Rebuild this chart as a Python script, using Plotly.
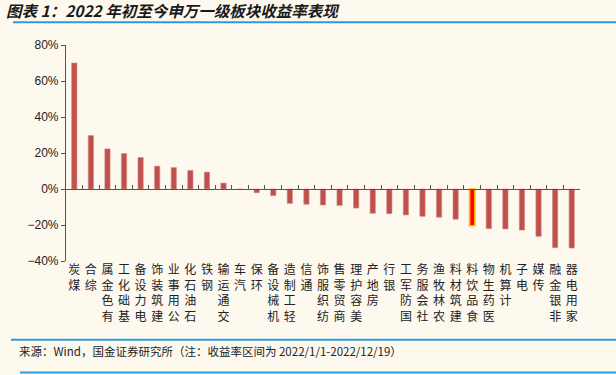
import plotly.graph_objects as go

categories = ["煤炭", "综合", "有色金属", "基础化工", "电力设备", "建筑装饰", "公用事业", "石油石化",
              "钢铁", "交通运输", "汽车", "环保", "机械设备", "轻工制造", "通信", "纺织服饰",
              "商贸零售", "美容护理", "房地产", "银行", "国防军工", "社会服务", "农林牧渔", "建筑材料",
              "食品饮料", "医药生物", "计算机", "电子", "传媒", "非银金融", "家用电器"]
returns = [70.0, 29.7, 22.3, 19.7, 17.5, 12.7, 11.9, 10.3, 9.4, 3.3, -0.2, -2.1, -3.7, -8.0, -8.5,
           -8.9, -9.1, -10.6, -13.5, -13.7, -14.4, -15.2, -15.7, -16.8, -20.4, -22.0, -22.2, -22.8,
           -26.3, -32.6, -32.8]
highlight = "食品饮料"
y_ticks = [-40, -20, 0, 20, 40, 60, 80]
y_tick_text = ["−40%", "−20%", "0%", "20%", "40%", "60%", "80%"]

BG = "#FEF9EF"
BAR = "#C0504D"
BLUE = "#2C9AD8"
CJK = "Noto Sans CJK SC"

# labels read bottom-to-top with upright characters
tick_text = ["<br>".join(reversed(list(c))) for c in categories]
colors = ["#FF0000" if c == highlight else BAR for c in categories]
line_colors = ["#FFC000" if c == highlight else "#D98A88" for c in categories]
line_widths = [1.6 if c == highlight else 0.6 for c in categories]

fig = go.Figure()
fig.add_trace(go.Bar(
    x=categories, y=returns, width=0.32,
    marker=dict(color=colors, line=dict(color=line_colors, width=line_widths)),
    hovertemplate="%{x}: %{y:.1f}%<extra></extra>",
))
fig.add_trace(go.Scatter(x=categories, y=[0] * len(categories), xaxis="x2", mode="markers",
                         marker=dict(opacity=0), hoverinfo="skip", showlegend=False))

n = len(categories)
fig.update_layout(
    width=616, height=375,
    paper_bgcolor=BG, plot_bgcolor=BG,
    margin=dict(l=66, r=36, t=45, b=114, autoexpand=False),
    showlegend=False,
    xaxis=dict(
        type="category", categoryorder="array", categoryarray=categories,
        range=[-0.5, n - 0.5], automargin=False,
        tickmode="array", tickvals=categories, ticktext=tick_text,
        showline=False, ticks="", showgrid=False, zeroline=False,
        tickfont=dict(family=CJK, size=12, color="#222222"),
        tickangle=0,
    ),
    xaxis2=dict(
        type="category", categoryorder="array", categoryarray=categories,
        range=[-0.5, n - 0.5], automargin=False,
        overlaying="x", anchor="free", position=40 / 120,
        showline=True, linecolor="#555555", linewidth=1.2,
        ticks="inside", tickson="boundaries", ticklen=4, tickcolor="#555555", tickwidth=1.2,
        showticklabels=False, showgrid=False, zeroline=False,
    ),
    yaxis=dict(
        range=[-40, 80], tickmode="array", tickvals=y_ticks, ticktext=y_tick_text,
        automargin=False,
        showline=True, linecolor="#555555", linewidth=1.2,
        ticks="outside", ticklen=4, tickcolor="#555555", tickwidth=1.2,
        showgrid=False, zeroline=False,
        tickfont=dict(family="Liberation Sans, Arial", size=12, color="#222222"),
    ),
    font=dict(family=CJK),
)

fig.add_annotation(
    text="<b><i>图表 1：2022 年初至今申万一级板块收益率表现</i></b>",
    xref="paper", yref="paper", x=-62 / 514, y=(260.7 - 10) / 216, xanchor="left", yanchor="middle",
    showarrow=False, font=dict(family=CJK, size=15.5, color="#1a1a1a"),
)
fig.add_annotation(
    text="来源：Wind，国金证券研究所（注：收益率区间为 2022/1/1-2022/12/19）",
    xref="paper", yref="paper", x=-49 / 514, y=-(351 - 260.7) / 216, xanchor="left", yanchor="middle",
    showarrow=False, font=dict(family=CJK, size=11.5, color="#222222"),
)

def hline(y_px, x0_px, color=BLUE, width=2):
    fig.add_shape(type="line", xref="paper", yref="paper",
                  x0=(x0_px - 66) / 514, x1=(616 - 66) / 514,
                  y0=(260.7 - y_px) / 216, y1=(260.7 - y_px) / 216,
                  line=dict(color=color, width=width))

hline(22, 13)
hline(339.5, 11)
hline(372.3, 20)

fig.write_html("out.html", config={"displayModeBar": False},
               post_script="document.body.style.margin='0';document.body.style.background='" + BG + "';")
